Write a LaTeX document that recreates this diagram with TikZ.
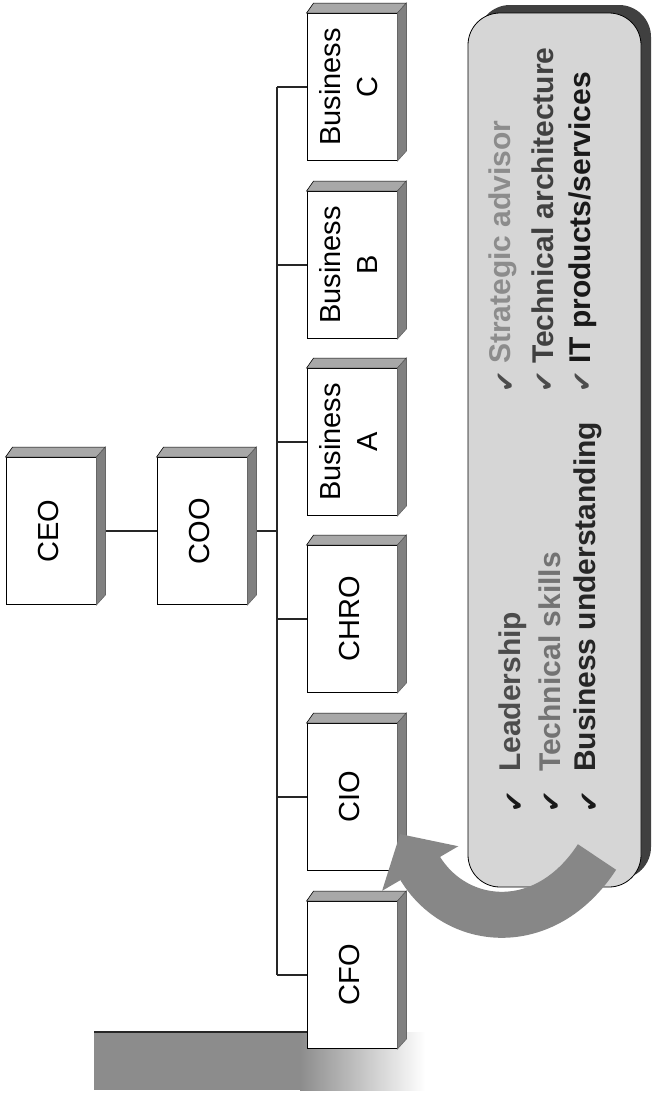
\documentclass[tikz,border=0pt]{standalone}
\usepackage{fontspec}
\setmainfont{Liberation Sans}
\newfontfamily\checkfont{DejaVu Sans}
\usetikzlibrary{arrows.meta, shadows}
\definecolor{cside} {gray}{0.50}
\definecolor{ctop}  {gray}{0.66}
\definecolor{cpanel}{gray}{0.84}
\definecolor{cback} {gray}{0.25}
\definecolor{carrow}{gray}{0.53}
\definecolor{cbase} {gray}{0.55}
\newcommand{\rlabel}[1]{\rotatebox{90}{\begin{tabular}{@{}c@{}}#1\end{tabular}}}
\tikzset{
  orgbox/.style  = {rectangle, draw=black, fill=white, line width=0.9pt,
                    inner sep=0pt, minimum width=90pt, minimum height=147pt,
                    font=\fontsize{29}{37}\selectfont},
  topface/.style = {fill=ctop, draw=black, line width=0.6pt},
  sideface/.style= {fill=cside, draw=black!60, line width=0.6pt},
  link/.style    = {line width=1.3pt, black!85},
  panel/.style   = {rectangle, rounded corners=32pt, fill=cpanel,
                    draw=black, line width=0.8pt, inner sep=0pt,
                    minimum width=173pt, minimum height=874pt,
                    copy shadow={shadow xshift=10pt, shadow yshift=8pt,
                                 fill=cback, draw=none}},
  skill/.style   = {rotate=90, anchor=west, inner sep=0pt,
                    font=\bfseries\fontsize{30}{36}\selectfont},
  tick/.style    = {rotate=90, anchor=west, inner sep=0pt,
                    font=\checkfont\fontsize{26}{26}\selectfont},
  bigarrow/.style= {carrow, line width=46pt,
                    -{Triangle[length=40pt, width=86pt]}}
}

\begin{document}
\begin{tikzpicture}[x=1pt, y=-1pt]
\useasboundingbox (0,0) rectangle (651,1093);

% ── Base band under the column ───────────────────────────────────────────
\fill[cbase] (94,1032) rectangle (300,1090);
\shade[left color=cbase, right color=white] (300,1032) rectangle (425,1090);

% ── Top level ────────────────────────────────────────────────────────────
\node[orgbox] (ceo) at (51, 531)  {\rlabel{CEO}};
\node[orgbox] (coo) at (202, 531) {\rlabel{COO}};

% ── Reporting column ─────────────────────────────────────────────────────
\node[orgbox] (busc) at (352, 87)  {\rlabel{Business\\C}};
\node[orgbox] (busb) at (352, 265) {\rlabel{Business\\B}};
\node[orgbox] (busa) at (352, 442) {\rlabel{Business\\A}};
\node[orgbox] (chro) at (352, 619) {\rlabel{CHRO}};
\node[orgbox] (cio)  at (352, 797) {\rlabel{CIO}};
\node[orgbox] (cfo)  at (352, 975) {\rlabel{CFO}};

\draw[link] (94,1032) -- (94,1032 -| cfo.west);

% ── Reporting lines ──────────────────────────────────────────────────────
\coordinate (trunk) at (277, 531);
\draw[link] (ceo.east) -- (coo.west);
\draw[link] (coo.east) -- (trunk);
\draw[link] (trunk |- busc.west) -- (trunk |- cfo.west);
\foreach \n in {busc, busb, busa, chro, cio, cfo}
  \draw[link] (trunk |- \n.west) -- (\n.west);

% ── Box depth (top and side faces) ───────────────────────────────────────
\foreach \n in {ceo, coo, busc, busb, busa, chro, cio, cfo} {
  \filldraw[topface] (\n.north west) -- ++(7,-10)
    -- ([shift={(9,-10)}]\n.north east) -- (\n.north east) -- cycle;
  \filldraw[sideface] (\n.north east) -- ++(9,-10)
    -- ([shift={(9,-10)}]\n.south east) -- (\n.south east) -- cycle;
}

% ── Skills panel ─────────────────────────────────────────────────────────
\node[panel] (skills) at (554.5, 450) {};

% ── Curved arrow from the panel to the CIO ───────────────────────────────
\coordinate (atail) at (597, 857);
\coordinate (ahead) at (400, 834);
\draw[bigarrow] (atail) .. controls (545,937) and (455,928) .. (ahead);

% ── Panel text ───────────────────────────────────────────────────────────
\node[tick, text=black!90] (k1) at (515, 813) {✔};
\node[tick, text=black!90] (k2) at (552, 813) {✔};
\node[tick, text=black!90] (k3) at (590, 813) {✔};
\node[skill, text=black!70] (l1) at (513, 772) {Leadership};
\node[skill, text=black!55] (l2) at (550, 772) {Technical skills};
\node[skill, text=black!85] (l3) at (588, 772) {Business understanding};

\node[tick, text=black!70] (k4) at (506, 393) {✔};
\node[tick, text=black!70] (k5) at (545, 393) {✔};
\node[tick, text=black!70] (k6) at (583, 393) {✔};
\node[skill, text=black!45] (r1) at (503, 364) {Strategic advisor};
\node[skill, text=black!75] (r2) at (543, 364) {Technical architecture};
\node[skill, text=black!90] (r3) at (583, 364) {IT products/services};

\end{tikzpicture}
\end{document}
